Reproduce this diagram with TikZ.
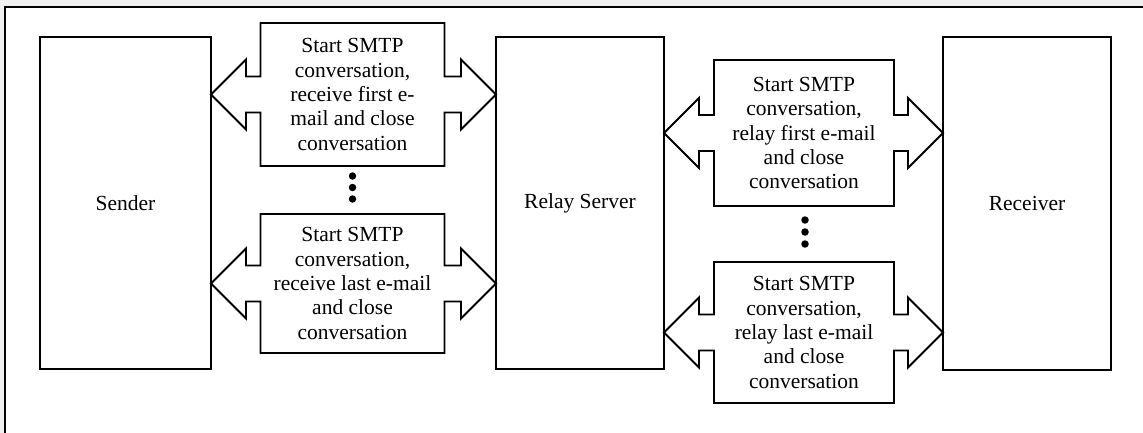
\documentclass[tikz,border=0pt]{standalone}
\usepackage{fontspec}
\setmainfont{Liberation Serif}
\usetikzlibrary{calc}

\definecolor{pagegray}{RGB}{240,240,240}

\tikzset{
  outline/.style={draw=black, line width=1.9pt, line join=miter},
  hostbox/.style={outline, rectangle, fill=white, inner sep=0pt, outer sep=0pt,
    minimum width=170pt, minimum height=332pt},
  msgbody/.style={rectangle, inner sep=0pt, outer sep=0pt, align=center,
    font=\fontsize{21.5pt}{24.4pt}\selectfont},
  hostlabel/.style={font=\fontsize{21.5pt}{24.4pt}\selectfont},
  dot/.style={circle, fill=black, inner sep=0pt, minimum size=7.5pt},
}

% Two-way callout: tip on the left box, body node in the middle, tip on the right box
\newcommand\twowaylink[3]{%
  \draw[outline, fill=white] let \p1=(#1.east), \p2=(#3.west),
      \p3=(#2.north west), \p4=(#2.south east), \p5=(#2.center) in
    (\x1,\y5) -- (\x1+35pt,\y5+35pt) -- (\x1+35pt,\y5+18pt) -- (\x3,\y5+18pt)
    -- (\x3,\y3) -- (\x4,\y3) -- (\x4,\y5+18pt) -- (\x2-35pt,\y5+18pt)
    -- (\x2-35pt,\y5+35pt) -- (\x2,\y5) -- (\x2-35pt,\y5-35pt)
    -- (\x2-35pt,\y5-18pt) -- (\x4,\y5-18pt) -- (\x4,\y4) -- (\x3,\y4)
    -- (\x3,\y5-18pt) -- (\x1+35pt,\y5-18pt) -- (\x1+35pt,\y5-35pt) -- cycle;
  \node[msgbody] at (#2.center) {\csname msgtext#2\endcsname};
}

\begin{document}
\begin{tikzpicture}[x=1pt, y=-1pt]
  \useasboundingbox (0,0) rectangle (1143,433);
  \fill[pagegray] (0,0) rectangle (1143,433);
  \draw[line width=1.9pt, fill=white] (5,7) rectangle (1170,460);

  % hosts
  \node[hostbox, minimum width=171pt] (sender)   at (125.5,203) {};
  \node[hostbox, minimum width=168pt] (relay)    at (580,203)   {};
  \node[hostbox, minimum width=168pt, minimum height=333pt] (receiver) at (1027,203.5) {};
  \node[hostlabel] (senderlbl)   at (sender.center)   {Sender};
  \node[hostlabel] (relaylbl)    at (relay.center)    {Relay Server};
  \node[hostlabel] (receiverlbl) at (receiver.center) {Receiver};

  % conversation bodies
  \node[msgbody, minimum width=184pt, minimum height=143pt] (sfirst) at (352.5,94.5)  {};
  \node[msgbody, minimum width=184pt, minimum height=139pt] (slast)  at (352.5,283.5) {};
  \node[msgbody, minimum width=180pt, minimum height=146pt] (rfirst) at (804,133)     {};
  \node[msgbody, minimum width=180pt, minimum height=141pt] (rlast)  at (804,332.5)   {};

  \def\msgtextsfirst{Start SMTP\\conversation,\\receive first e-\\mail and close\\conversation}
  \def\msgtextslast{Start SMTP\\conversation,\\receive last e-mail\\and close\\conversation}
  \def\msgtextrfirst{Start SMTP\\conversation,\\relay first e-mail\\and close\\conversation}
  \def\msgtextrlast{Start SMTP\\conversation,\\relay last e-mail\\and close\\conversation}

  \twowaylink{sender}{sfirst}{relay}
  \twowaylink{sender}{slast}{relay}
  \twowaylink{relay}{rfirst}{receiver}
  \twowaylink{relay}{rlast}{receiver}

  % ellipsis between repeated conversations
  \node[dot] (ld1) at (352.5,176) {};
  \node[dot] (ld2) at (352.5,187.5) {};
  \node[dot] (ld3) at (352.5,199) {};
  \node[dot] (rd1) at (805,220) {};
  \node[dot] (rd2) at (805,232) {};
  \node[dot] (rd3) at (805,244) {};
\end{tikzpicture}
\end{document}
